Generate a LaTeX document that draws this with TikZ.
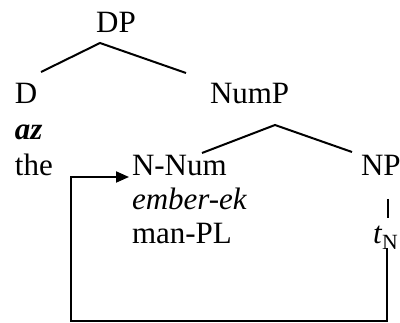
\documentclass[tikz,border=0pt]{standalone}
\usepackage{fontspec}
\setmainfont{Liberation Serif}
\usetikzlibrary{arrows.meta}
\begin{document}
\begin{tikzpicture}[x=1pt,y=1pt,
  lbl/.style={inner sep=0pt,outer sep=0pt,anchor=base west,font=\fontsize{31}{37}\selectfont},
  branch/.style={line width=2pt},
  movearrow/.style={line width=2pt,-{Triangle[length=13pt,width=11pt]}}]
\useasboundingbox (0,0) rectangle (400,-323);
% labels
\node[lbl,anchor=base] (dp) at (116,-33) {DP};
\node[lbl] (d) at (15,-104) {D};
\node[lbl] (az) at (15,-140) {\textbf{\textit{az}}};
\node[lbl] (the) at (15,-176) {the};
\node[lbl] (nump) at (210,-104) {NumP};
\node[lbl] (nnum) at (132,-176) {N-Num};
\node[lbl] (ember) at (132,-210) {\textit{ember-ek}};
\node[lbl] (man) at (132,-244) {man-PL};
\node[lbl] (np) at (361,-176) {NP};
\node[lbl] (tn) at (373,-244) {\textit{t}\textsubscript{N}};
% branch points
\coordinate (dpa) at (100,-43);
\coordinate (dl) at (41,-72);
\coordinate (dr) at (186,-73);
\coordinate (npa) at (275,-125);
\coordinate (nl) at (202,-153);
\coordinate (nr) at (352,-152);
\coordinate (npb) at (388,-199);
\coordinate (tnt) at (388,-218);
% movement path
\coordinate (bstart) at (387,-248);
\coordinate (bcorner) at (71,-321);
\coordinate (tip) at (129,-177);
\draw[branch] (dl) -- (dpa) -- (dr);
\draw[branch] (nl) -- (npa) -- (nr);
\draw[branch] (npb) -- (tnt);
\draw[movearrow] (bstart) |- (bcorner) |- (tip);
\end{tikzpicture}
\end{document}
